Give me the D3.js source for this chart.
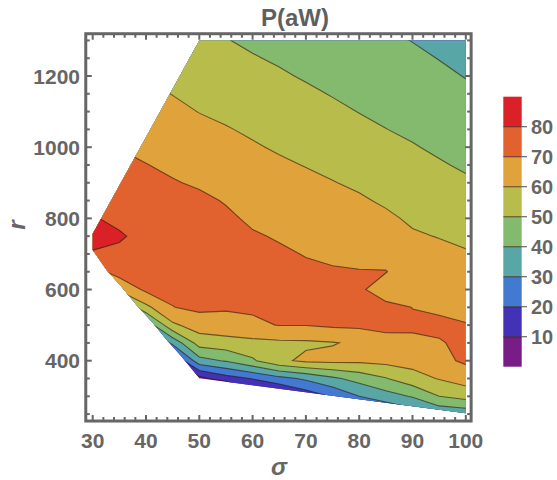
<!DOCTYPE html>
<html><head><meta charset="utf-8">
<script src="https://cdn.jsdelivr.net/npm/d3@7"></script>
<style>body{margin:0;background:#fff} svg{display:block}</style>
</head><body><svg id="chart" width="557" height="480"></svg>
<script>
// ---- data ----
const sigmaGrid = [30,35,40,45,50,55,60,65,70,75,80,85,90,95,100];
const rGrid = [250,300,350,400,450,500,550,600,650,700,750,800,850,900,950,1000,1050,1100,1150,1200,1250,1300];
// P(aW) values, one array per sigma column, from r = 250 up to r = 1300
const pSigma30  = [-15,-5,5,15,25,35,45,55,66,79,84,81,78.2,76,73.7,71.5,69.4,67.5,65.6,63.6,61.7,59.8];
const pSigma35  = [-40,-30,-15,0,12.5,25,37.5,62,74,77.3,81.5,77,75.9,73.9,71.8,69.8,67.8,65.8,63.8,61.8,59.8,57.6];
const pSigma40  = [-40,-25,-10,0,10,32.5,57.5,72,73.8,75.9,76.1,74.6,73.1,71.7,70.2,68.2,66.1,64.0,61.9,59.8,57.7,55.7];
const pSigma45  = [-40,-20,-10,7.5,32.5,58.2,69.8,71.9,73.9,76,74.6,73.2,71.9,70.5,68.6,66.4,64.2,62.0,59.8,57.8,55.8,53.8];
const pSigma50  = [-40,-20,6.9,36.3,54.3,64.9,72,74,75.5,76,75,73.5,71.5,69.1,66.6,64.3,62.1,59.8,57.5,55.3,53,50.8];
const pSigma55  = [-40,-20,15.6,40.9,56.1,66.3,71.0,72.5,74.1,74.4,72.8,71.3,69.5,67.3,65.0,62.8,60.5,58.4,56.4,54.4,52.3,50.3];
const pSigma60  = [-30,5,20.5,48.6,57.3,68.4,71.2,72.6,74,72.3,70.7,68.8,66.8,64.8,62.8,60.8,58.8,56.7,54.6,52.6,50.5,48.7];
const pSigma65  = [-20,5,26.8,58,58.2,70.3,71.2,72.3,72.4,71.0,69.4,67.3,65.3,63.2,61.2,59.1,57.0,55.0,53.0,50.9,49.1,47.4];
const pSigma70  = [-20,13.6,31.7,62,58.5,70.3,71.5,72.5,71.2,69.7,67.7,65.7,63.7,61.8,59.7,57.6,55.5,53.4,51.3,49.3,47.7,46.0];
const pSigma75  = [-5,21,38.1,62.5,59.5,71.5,71.8,71.6,70.5,69.0,66.8,64.7,62.5,60.3,58.2,56.0,53.8,51.6,49.6,47.9,46.2,44.6];
const pSigma80  = [10,30,43.7,62,61.5,72,72.3,71.3,70.3,68.2,65.8,63.4,61.0,58.7,56.5,54.2,52.0,49.8,48.2,46.5,44.9,43.2];
const pSigma85  = [18,35.7,49.5,62.9,68,71.5,72,66,70.3,66.9,64.2,61.4,58.9,56.7,54.5,52.3,50.1,48.4,46.7,45.0,43.3,41.6];
const pSigma90  = [24,40.9,56.1,63.7,68.7,71.0,69.9,67.7,65.4,63.2,60.9,58.8,56.7,54.6,52.6,50.5,48.7,46.9,45.1,43.4,41.6,39.8];
const pSigma95  = [31.5,50,60.6,67.5,69.6,71.1,69.1,66.8,64.4,62.0,59.7,57.5,55.2,53.0,50.7,48.8,47.0,45.2,43.4,41.6,39.8,37.9];
const pSigma100 = [33.3,53.7,64.6,71.5,71.2,70.3,68.2,65.7,63.2,60.7,58.3,55.9,53.5,51.1,49.0,47.2,45.3,43.5,41.6,39.7,37.9,36.0];
const pColumns = [pSigma30,pSigma35,pSigma40,pSigma45,pSigma50,pSigma55,pSigma60,pSigma65,pSigma70,pSigma75,pSigma80,pSigma85,pSigma90,pSigma95,pSigma100];

// region where the data exist (sigma, r) vertices
const domainSigma = [50,100,100,50,46.7,43.9,41.1,38.25,35.4,32.6,30,30];
const domainR     = [1300,1300,252,350.6,411,458,509.5,556,608,655,711,757];

const levels = [10,20,30,40,50,60,70,80];
const bandColors = ["#781C86","#4332B6","#4279D1","#59A6A6","#84BA6E","#B8BC4B","#E0A33B","#E2622F","#DA2127"];
const xTicks = [30,40,50,60,70,80,90,100];
const yTicks = [400,600,800,1000,1200];
const legendLabels = [10,20,30,40,50,60,70,80];
const titleText = "P(aW)";
const xLabel = "σ", yLabel = "r";

// ---- scales ----
const svg = d3.select("#chart");
const x = d3.scaleLinear().domain([30,100]).range([92.7,465.8]);
const y = d3.scaleLinear().domain([400,1200]).range([360.7,76]);
const sigmaRange = [28.7,101.0], rRange = [230.5,1318.8];
const fx0 = x(sigmaRange[0]), fx1 = x(sigmaRange[1]);
const fy0 = y(rRange[1]), fy1 = y(rRange[0]);

// ---- contours ----
const n = sigmaGrid.length, m = rGrid.length;
const values = new Array(n*m);
for (let j=0;j<m;j++) for (let i=0;i<n;i++) values[i + j*n] = pColumns[i][j];
const contours = d3.contours().size([n,m]).thresholds(levels)(values);
const gx = d3.scaleLinear().domain([0.5,n-0.5]).range([sigmaGrid[0],sigmaGrid[n-1]]);
const gy = d3.scaleLinear().domain([0.5,m-0.5]).range([rGrid[0],rGrid[m-1]]);
const proj = d3.geoTransform({point(px,py){ this.stream.point(x(gx(px)), y(gy(py))); }});
const path = d3.geoPath(proj);

const defs = svg.append("defs");
defs.append("clipPath").attr("id","hull").append("path")
  .attr("d", d3.line()(domainSigma.map((s,i)=>[x(s), y(domainR[i])])) + "Z");

const g = svg.append("g").attr("clip-path","url(#hull)");
g.append("rect").attr("x",fx0).attr("y",fy0).attr("width",fx1-fx0).attr("height",fy1-fy0).attr("fill",bandColors[0]);
contours.forEach((c,k)=>{
  g.append("path").attr("d",path(c)).attr("fill",bandColors[k+1]).attr("fill-rule","evenodd");
});
contours.forEach(c=>{
  g.append("path").attr("d",path(c)).attr("fill","none")
   .attr("stroke","rgba(40,20,10,0.6)").attr("stroke-width",1.1);
});

// ---- frame & ticks ----
const gray = "#666";
const fr = svg.append("g");
const tickW = 2;
function tk(x1,y1,x2,y2){ fr.append("line").attr("x1",x1).attr("y1",y1).attr("x2",x2).attr("y2",y2).attr("stroke",gray).attr("stroke-width",tickW); }
d3.range(30,101,2).forEach(v=>{
  const L = v%10===0 ? 6 : 4, px = x(v);
  tk(px,fy1,px,fy1-L); tk(px,fy0,px,fy0+L);
});
d3.range(250,1301,50).forEach(v=>{
  const L = v%200===0 ? 6 : 4, py = y(v);
  tk(fx0,py,fx0+L,py); tk(fx1,py,fx1-L,py);
});
fr.append("rect").attr("x",fx0).attr("y",fy0).attr("width",fx1-fx0).attr("height",fy1-fy0)
  .attr("fill","none").attr("stroke",gray).attr("stroke-width",3);

const font = "'Liberation Sans', Arial, sans-serif";
xTicks.forEach(v=> svg.append("text").attr("x",x(v)).attr("y",448).attr("text-anchor","middle")
  .attr("font-family",font).attr("font-weight","bold").attr("font-size",21).attr("fill",gray).text(v));
yTicks.forEach(v=> svg.append("text").attr("x",80).attr("y",y(v)+7.5).attr("text-anchor","end")
  .attr("font-family",font).attr("font-weight","bold").attr("font-size",21).attr("fill",gray).text(v));

svg.append("text").attr("x",295).attr("y",26).attr("text-anchor","middle")
  .attr("font-family",font).attr("font-weight","bold").attr("font-size",24).attr("fill","#5f5f5f").text(titleText);
svg.append("text").attr("x",279).attr("y",475).attr("text-anchor","middle")
  .attr("font-family",font).attr("font-style","italic").attr("font-weight","bold").attr("font-size",24).attr("fill",gray).text(xLabel);
svg.append("text").attr("transform","translate(25,225) rotate(-90)").attr("text-anchor","middle")
  .attr("font-family",font).attr("font-style","italic").attr("font-weight","bold").attr("font-size",24).attr("fill",gray).text(yLabel);

// ---- legend ----
const lg = svg.append("g");
const ly = d3.scaleLinear().domain([0,90]).range([366.7,96.7]);
const lx0 = 503.3, lx1 = 521.7;
bandColors.forEach((c,k)=>{
  lg.append("rect").attr("x",lx0).attr("y",ly(10*(k+1))).attr("width",lx1-lx0).attr("height",ly(10*k)-ly(10*(k+1))).attr("fill",c);
});
legendLabels.forEach(v=>{
  lg.append("line").attr("x1",lx0).attr("x2",lx1).attr("y1",ly(v)).attr("y2",ly(v)).attr("stroke","rgba(40,20,10,0.6)").attr("stroke-width",1.2);
  lg.append("line").attr("x1",lx1).attr("x2",527).attr("y1",ly(v)).attr("y2",ly(v)).attr("stroke",gray).attr("stroke-width",1.2);
  lg.append("text").attr("x",531).attr("y",ly(v)+7).attr("font-family",font).attr("font-weight","bold")
    .attr("font-size",20).attr("fill",gray).text(v);
});
</script></body></html>
